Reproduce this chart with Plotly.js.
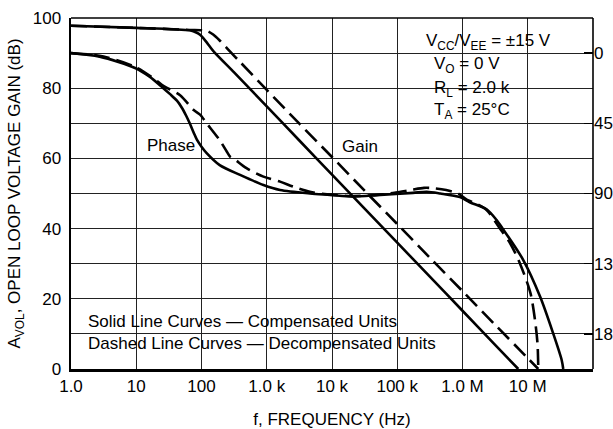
<!DOCTYPE html>
<html>
<head>
<meta charset="utf-8">
<script src="https://cdn.plot.ly/plotly-3.0.1.min.js"></script>
<style>html,body{margin:0;padding:0;background:#fff;}#chart{width:613px;height:429px;}</style>
</head>
<body>
<div id="chart"></div>
<script>
// ---- data (frequency in Hz, gain in dB, phase in degrees) ----
const gainSolidFreq = [1, 10, 66, 85, 95, 115, 135, 158, 316, 1000, 3160, 1e4, 3.16e4, 1e5, 3.16e5, 1e6, 3.16e6, 7.16e6];
const gainSolidDb   = [97.8, 97.2, 96.5, 95.8, 95.2, 93.5, 91.8, 90.2, 84.5, 74.8, 65.1, 55.4, 45.7, 36.0, 26.3, 16.6, 6.9, 0];

const gainDashFreq = [1, 10, 66, 105, 126, 151, 190, 275, 389, 1000, 3160, 1e4, 3.16e4, 1e5, 3.16e5, 1e6, 3.16e6, 1e7, 1.45e7];
const gainDashDb   = [97.8, 97.2, 96.6, 96.5, 96.2, 95.3, 93.6, 90.4, 87.5, 79.5, 69.9, 60.4, 50.8, 41.3, 31.7, 22.2, 12.6, 3.1, 0];

const phaseSolidFreq = [1, 2.75, 9.8, 16, 26, 33, 42, 50, 58, 66, 76, 85, 100, 120, 190, 390, 890, 1600, 4600, 9300, 21000, 55000, 174000, 282000, 457000, 912000, 1.29e6, 2.34e6, 3.31e6, 4.27e6, 8.5e6, 1.55e7, 2.45e7, 3.31e7, 3.5e7];
const phaseSolidDeg  = [0, 2.25, 9.7, 15.1, 22.5, 26.3, 30.5, 35, 40, 45, 51, 55.5, 60, 64.1, 71.8, 78.1, 84.6, 87.8, 90, 90.9, 92, 90.9, 89.6, 88.9, 90, 92.3, 95.6, 100.1, 106.9, 113.4, 132.5, 156.2, 179.6, 196.7, 202.5];

const phaseDashFreq = [1, 3.16, 9.8, 20.4, 26, 47, 76, 95, 120, 190, 245, 275, 309, 490, 890, 1600, 2570, 4570, 7080, 20000, 63000, 158000, 257000, 363000, 562000, 851000, 1.23e6, 1.58e6, 2.34e6, 3.72e6, 5.37e6, 7.59e6, 1.1e7, 1.29e7, 1.41e7, 1.45e7];
const phaseDashDeg  = [0, 2.25, 9, 17.6, 21, 27, 36.5, 39.4, 45, 55.8, 63.2, 66.4, 67.5, 73.8, 79.2, 82.4, 85.7, 88.9, 90.2, 91.6, 90.5, 87.8, 86.4, 86.6, 87.8, 90, 94.5, 96.3, 100.6, 112.3, 121.9, 134.8, 153.9, 171, 186.1, 202.5];

const freqTickVals  = [1, 10, 100, 1e3, 1e4, 1e5, 1e6, 1e7, 1e8];
const freqTickText  = ['1.0', '10', '100', '1.0 k', '10 k', '100 k', '1.0 M', '10 M', '100 M'];
const gainTickVals  = [0, 20, 40, 60, 80, 100];
const phaseTickVals = [0, 45, 90, 135, 180];

const conditionLines = ['V<sub>CC</sub>/V<sub>EE</sub> = \u00b115 V', 'V<sub>O</sub> = 0 V', 'R<sub>L</sub> = 2.0 k', 'T<sub>A</sub> = 25\u00b0C'];
const noteLines = ['Solid Line Curves \u2014 Compensated Units', 'Dashed Line Curves \u2014 Decompensated Units'];

// ---- chart ----
const FONT = '"Liberation Sans", Arial, Helvetica, sans-serif';
const FS = 17;
const lineW = 2.6;
const dashPat = '16px,7px';

const traces = [
  {x: gainSolidFreq, y: gainSolidDb, mode: 'lines', line: {color: '#000', width: lineW, shape: 'spline', smoothing: 0.6}, yaxis: 'y'},
  {x: gainDashFreq, y: gainDashDb, mode: 'lines', line: {color: '#000', width: lineW, dash: dashPat, shape: 'spline', smoothing: 0.6}, yaxis: 'y'},
  {x: phaseSolidFreq, y: phaseSolidDeg, mode: 'lines', line: {color: '#000', width: lineW, shape: 'spline', smoothing: 0.8}, yaxis: 'y2'},
  {x: phaseDashFreq, y: phaseDashDeg, mode: 'lines', line: {color: '#000', width: lineW, dash: dashPat, shape: 'spline', smoothing: 0.8}, yaxis: 'y2'}
];

// pixel helpers for the plot frame (l=71, r=593, t=18, b=369)
const px = v => (v - 71) / 522;
const py = v => (369 - v) / 351;

const annotations = [];
const condX = [424, 432, 432, 432];
const condY = [42, 65, 89, 111];
conditionLines.forEach((t, i) => annotations.push({
  text: t, xref: 'paper', yref: 'paper', x: px(condX[i]), y: py(condY[i]), xanchor: 'left', yanchor: 'middle',
  showarrow: false, font: {family: FONT, size: FS, color: '#000'}
}));
const noteY = [321, 343];
noteLines.forEach((t, i) => annotations.push({
  text: t, xref: 'paper', yref: 'paper', x: px(86), y: py(noteY[i]), xanchor: 'left', yanchor: 'middle',
  showarrow: false, font: {family: FONT, size: FS, color: '#000'}
}));
annotations.push({text: 'Phase', xref: 'paper', yref: 'paper', x: px(171), y: py(145), xanchor: 'center', yanchor: 'middle', showarrow: false, font: {family: FONT, size: FS, color: '#000'}});
annotations.push({text: 'Gain', xref: 'paper', yref: 'paper', x: px(360), y: py(146), xanchor: 'center', yanchor: 'middle', showarrow: false, font: {family: FONT, size: FS, color: '#000'}});

const shapes = [
  {type: 'rect', xref: 'paper', yref: 'paper', x0: px(422), x1: px(583), y0: py(127), y1: py(25), fillcolor: '#fff', line: {width: 0}, layer: 'between'},
  {type: 'rect', xref: 'paper', yref: 'paper', x0: px(80), x1: px(450), y0: py(360), y1: py(300), fillcolor: '#fff', line: {width: 0}, layer: 'between'},
  {type: 'line', xref: 'paper', yref: 'paper', x0: 0, x1: 1, y0: 1, y1: 1, line: {color: '#000', width: 1.6}},
  {type: 'line', xref: 'paper', yref: 'paper', x0: 1, x1: 1, y0: 0, y1: 1, line: {color: '#000', width: 1.6}}
];

const layout = {
  width: 613, height: 429,
  margin: {l: 71, r: 20, t: 18, b: 60},
  paper_bgcolor: '#fff', plot_bgcolor: '#fff',
  showlegend: false,
  font: {family: FONT, size: FS, color: '#000'},
  xaxis: {
    type: 'log', range: [0, 8], tickvals: freqTickVals, ticktext: freqTickText,
    showgrid: true, gridcolor: '#222', gridwidth: 1,
    showline: true, linecolor: '#000', linewidth: 3, zeroline: false,
    ticks: '', tickfont: {family: FONT, size: FS, color: '#000'},
    title: {text: 'f, FREQUENCY (Hz)', font: {family: FONT, size: FS, color: '#000'}, standoff: 18},
    automargin: false
  },
  yaxis: {
    range: [0, 100], tickvals: gainTickVals,
    showgrid: true, gridcolor: '#222', gridwidth: 1,
    minor: {dtick: 10, showgrid: true, gridcolor: '#222', gridwidth: 1},
    showline: true, linecolor: '#000', linewidth: 2.5, zeroline: false,
    ticks: '', tickfont: {family: FONT, size: FS, color: '#000'},
    ticklabelstandoff: 4,
    title: {text: 'A<sub>VOL</sub>, OPEN LOOP VOLTAGE GAIN (dB)', font: {family: FONT, size: FS, color: '#000'}, standoff: 8},
    automargin: false
  },
  yaxis2: {
    overlaying: 'y', side: 'right', range: [202.5, -22.5], tickvals: phaseTickVals,
    showgrid: false, showline: false, zeroline: false,
    ticks: 'inside', ticklen: 9, tickwidth: 1.5, tickcolor: '#000',
    tickfont: {family: FONT, size: FS, color: '#000'},
    automargin: false
  },
  annotations: annotations,
  shapes: shapes
};

Plotly.newPlot('chart', traces, layout, {staticPlot: true, displayModeBar: false});
</script>
</body>
</html>
